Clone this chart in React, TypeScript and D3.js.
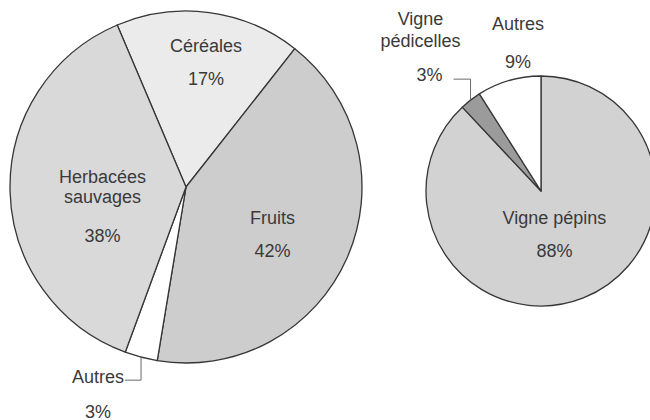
import React, { useEffect, useRef } from 'react';
import * as d3 from 'd3';

// Left pie: plant remains
const leftCategories = ['Céréales', 'Fruits', 'Autres', 'Herbacées\nsauvages'];
const leftValues = [17, 42, 3, 38];
const leftColors = ['#ebebeb', '#cdcdcd', '#ffffff', '#d9d9d9'];

// Right pie: grapevine remains
const rightCategories = ['Vigne pépins', 'Vigne\npédicelles', 'Autres'];
const rightValues = [88, 3, 9];
const rightColors = ['#d2d2d2', '#9b9b9b', '#ffffff'];

const W = 650;
const H = 420;
const FONT = '"Liberation Sans", Arial, Helvetica, sans-serif';
const TEXT = '#3a3a3a';
const STROKE = '#363636';

type Pie = {
  cx: number;
  cy: number;
  r: number;
  start: number; // degrees, clockwise from 12 o'clock
  cats: string[];
  vals: number[];
  colors: string[];
  // label placement per slice: inside (offset from centroid) or leader line
  labels: any[];
};

const pies: Pie[] = [
  {
    cx: 186, cy: 187, r: 176, start: -23,
    cats: leftCategories, vals: leftValues, colors: leftColors,
    labels: [
      { kind: 'in', rf: 0.6, dx: 6, dy: 3 },
      { kind: 'in', rf: 0.6, dx: -10, dy: 27 },
      { kind: 'leader', down: 23, side: -16 },
      { kind: 'in', rf: 0.6, dx: 22, dy: 52, pctGap: 39 },
    ],
  },
  {
    cx: 541, cy: 191, r: 115, start: 0,
    cats: rightCategories, vals: rightValues, colors: rightColors,
    labels: [
      { kind: 'in', rf: 0.6, dx: -12, dy: 2 },
      { kind: 'leader', down: -21, side: -17 },
      { kind: 'in', rf: 1.12, dx: 13, dy: 1, pctGap: 38 },
    ],
  },
];

const App = () => {
  const svgRef = useRef<SVGSVGElement | null>(null);

  useEffect(() => {
    const svg = d3.select(svgRef.current);
    svg.selectAll('*').remove();

    pies.forEach(p => {
      const g = svg.append('g').attr('transform', `translate(${p.cx},${p.cy})`);
      const pie = d3.pie<number>()
        .sort(null)
        .value(d => d)
        .startAngle((p.start * Math.PI) / 180)
        .endAngle((p.start * Math.PI) / 180 + 2 * Math.PI);
      const arcs = pie(p.vals);
      const arc = d3.arc<d3.PieArcDatum<number>>().innerRadius(0).outerRadius(p.r);

      g.selectAll('path.slice')
        .data(arcs)
        .join('path')
        .attr('class', 'slice')
        .attr('d', arc)
        .attr('fill', (_, i) => p.colors[i])
        .attr('stroke', STROKE)
        .attr('stroke-width', 1.3)
        .attr('stroke-linejoin', 'round');

      arcs.forEach((a, i) => {
        const lab = p.labels[i];
        const lines = p.cats[i].split('\n');
        const pct = `${p.vals[i]}%`;
        const txt = (x: number, y: number, s: string) =>
          g.append('text')
            .attr('x', x)
            .attr('y', y)
            .attr('text-anchor', 'middle')
            .attr('font-family', FONT)
            .attr('font-size', 18)
            .attr('fill', TEXT)
            .text(s);

        if (lab.kind === 'in') {
          const la = d3.arc<d3.PieArcDatum<number>>()
            .innerRadius(p.r * lab.rf)
            .outerRadius(p.r * lab.rf);
          const [x0, y0] = la.centroid(a);
          const x = x0 + lab.dx;
          const y = y0 + lab.dy;
          const gap = lab.pctGap ?? 33;
          txt(x, y, pct);
          lines.forEach((s, j) => {
            txt(x, y - gap - (lines.length - 1 - j) * 20, s);
          });
        } else {
          // leader line from the slice edge
          const mid = (a.startAngle + a.endAngle) / 2;
          const ax = p.r * Math.sin(mid);
          const ay = -p.r * Math.cos(mid);
          const by = ay + lab.down;
          const cx = ax + lab.side;
          g.append('path')
            .attr('d', `M${ax},${ay}L${ax},${by}L${cx},${by}`)
            .attr('fill', 'none')
            .attr('stroke', '#6a6a6a')
            .attr('stroke-width', 1);
          if (lab.down > 0) {
            // label below-left
            txt(cx - 27, by + 3, lines[0]);
            txt(cx - 27, by + 38, pct);
          } else {
            // label above-left
            txt(cx - 24, by + 2, pct);
            lines.forEach((s, j) => {
              txt(cx - 33, by - 32 - (lines.length - 1 - j) * 22, s);
            });
          }
        }
      });
    });
  }, []);

  return (
    <svg
      ref={svgRef}
      width={W}
      height={H}
      style={{ position: 'absolute', left: 0, top: 0, background: '#fff' }}
    />
  );
};

export default App;
